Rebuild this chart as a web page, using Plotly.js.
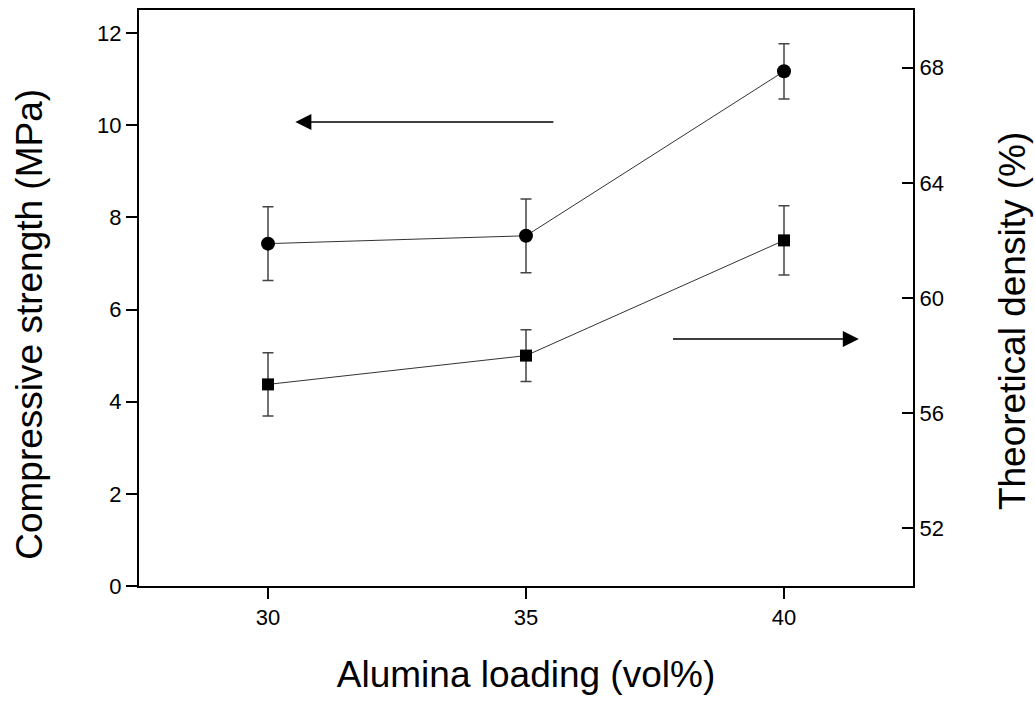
<!DOCTYPE html>
<html>
<head>
<meta charset="utf-8">
<script src="https://cdn.plot.ly/plotly-3.0.1.min.js"></script>
<style>html,body{margin:0;padding:0;background:#fff;}#chart{width:1035px;height:709px;}</style>
</head>
<body>
<div id="chart"></div>
<script>
// Data
const alumina = [30, 35, 40];
const strength = [7.43, 7.60, 11.17];
const strengthErr = [0.80, 0.80, 0.60];
const density = [57.0, 58.0, 62.0];
const densityErr = [1.1, 0.9, 1.2];

const xTicks = [30, 35, 40];
const yTicks = [0, 2, 4, 6, 8, 10, 12];
const y2Ticks = [52, 56, 60, 64, 68];

const xTitle = 'Alumina loading (vol%)';
const yTitle = 'Compressive strength (MPa)';
const y2Title = 'Theoretical density (%)';

const FONT = 'Arial, "Liberation Sans", sans-serif';

const traces = [
  {
    x: alumina, y: strength, type: 'scatter', mode: 'lines+markers',
    name: 'Compressive strength', yaxis: 'y',
    line: {color: '#333333', width: 1},
    marker: {symbol: 'circle', size: 14, color: '#000000'},
    error_y: {type: 'data', array: strengthErr, visible: true, color: '#444444', thickness: 1.5, width: 5.5}
  },
  {
    x: alumina, y: density, type: 'scatter', mode: 'lines+markers',
    name: 'Theoretical density', yaxis: 'y2',
    line: {color: '#333333', width: 1},
    marker: {symbol: 'square', size: 12, color: '#000000'},
    error_y: {type: 'data', array: densityErr, visible: true, color: '#444444', thickness: 1.5, width: 5.5}
  }
];

const titleFont = {size: 37, family: FONT, color: '#000'};
const tickFont = {size: 22, family: FONT, color: '#000'};

const layout = {
  width: 1035, height: 709,
  paper_bgcolor: '#ffffff', plot_bgcolor: '#ffffff',
  showlegend: false,
  font: {family: FONT, color: '#000000'},
  margin: {l: 139, r: 122, t: 10, b: 123},
  xaxis: {
    range: [27.5, 42.5], tickvals: xTicks, ticktext: xTicks.map(String),
    showgrid: false, zeroline: false,
    showline: true, linecolor: '#000', linewidth: 2, mirror: true,
    ticks: 'outside', ticklen: 11, tickwidth: 2, tickcolor: '#000',
    tickfont: tickFont,
    title: {text: xTitle, font: titleFont, standoff: 32}
  },
  yaxis: {
    range: [0, 12.5], tickvals: yTicks, ticktext: yTicks.map(String),
    showgrid: false, zeroline: false,
    showline: true, linecolor: '#000', linewidth: 2,
    ticks: 'outside', ticklen: 11, tickwidth: 2, tickcolor: '#000',
    tickfont: tickFont
  },
  yaxis2: {
    range: [50, 70], tickvals: y2Ticks, ticktext: y2Ticks.map(String),
    overlaying: 'y', side: 'right',
    showgrid: false, zeroline: false,
    showline: true, linecolor: '#000', linewidth: 2,
    ticks: 'inside', ticklen: 11, tickwidth: 2, tickcolor: '#000',
    tickfont: tickFont
  },
  annotations: [
    // y-axis titles (placed slightly below the plot centre, as in the reference)
    {xref: 'paper', yref: 'paper', x: -0.141, y: 0.455, xanchor: 'center', yanchor: 'middle',
     text: yTitle, textangle: -90, showarrow: false, font: titleFont},
    {xref: 'paper', yref: 'paper', x: 1.128, y: 0.46, xanchor: 'center', yanchor: 'middle',
     text: y2Title, textangle: -90, showarrow: false, font: titleFont},
    // direction arrows
    {xref: 'x', yref: 'y', axref: 'x', ayref: 'y', x: 30.53, y: 10.07, ax: 35.56, ay: 10.07,
     text: '', showarrow: true, arrowhead: 2, arrowsize: 2, arrowwidth: 1.6, arrowcolor: '#000'},
    {xref: 'x', yref: 'y', axref: 'x', ayref: 'y', x: 41.45, y: 5.36, ax: 37.82, ay: 5.36,
     text: '', showarrow: true, arrowhead: 2, arrowsize: 2, arrowwidth: 1.6, arrowcolor: '#000'}
  ]
};

Plotly.newPlot('chart', traces, layout, {displayModeBar: false, staticPlot: true});
</script>
</body>
</html>
